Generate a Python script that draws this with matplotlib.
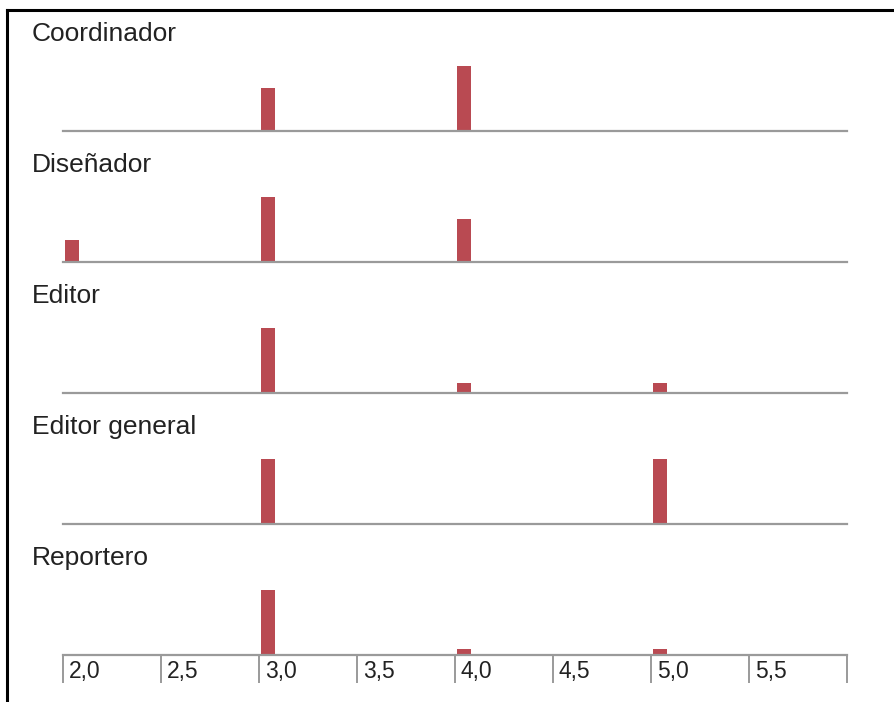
import matplotlib
matplotlib.use("Agg")
import matplotlib.pyplot as plt
from matplotlib.lines import Line2D

# panel names, top to bottom
roles = ["Coordinador", "Diseñador", "Editor", "Editor general", "Reportero"]

# bin starts (left edge of each bar) and relative heights per panel
bins = [2.0, 3.0, 4.0, 5.0]
heights = {
    "Coordinador":    [0.0, 2.0, 3.0, 0.0],
    "Diseñador":      [1.0, 3.0, 2.0, 0.0],
    "Editor":         [0.0, 1.0, 0.155, 0.155],
    "Editor general": [0.0, 1.0, 0.0, 1.0],
    "Reportero":      [0.0, 1.0, 0.09, 0.09],
}

tick_vals = [2.0, 2.5, 3.0, 3.5, 4.0, 4.5, 5.0, 5.5, 6.0]
tick_labels = ["2,0", "2,5", "3,0", "3,5", "4,0", "4,5", "5,0", "5,5", ""]

plt.rcParams["font.family"] = ["Liberation Sans", "DejaVu Sans"]

W, H = 894, 702
fig = plt.figure(figsize=(W / 100, H / 100), dpi=100)

bar_color = "#b94a52"
axis_color = "#9a9a9a"
text_color = "#222222"

x0, x1 = 63, 847
baselines = [131, 262, 393, 524, 655]
bar_px = 65

for i, role in enumerate(roles):
    base = baselines[i]
    ax = fig.add_axes([x0 / W, 1 - base / H, (x1 - x0) / W, bar_px / H])
    vals = heights[role]
    # bars sit a hair to the right of the bin start
    ax.bar([b + 0.01 for b in bins], vals, width=0.071, align="edge",
           color=bar_color, zorder=2)
    ax.set_xlim(2.0, 6.0)
    ax.set_ylim(0, max(vals))
    for s in ["top", "right", "left"]:
        ax.spines[s].set_visible(False)
    ax.spines["bottom"].set_color(axis_color)
    ax.spines["bottom"].set_linewidth(1.6)
    ax.spines["bottom"].set_zorder(3)
    ax.set_yticks([])
    ax.patch.set_alpha(0)

    fig.text(32 / W, 1 - (base - 97) / H, role, fontsize=19,
             color=text_color, va="center", ha="left")

    if i == len(roles) - 1:
        ax.set_xticks(tick_vals)
        ax.set_xticklabels([])
        ax.tick_params(axis="x", direction="out", length=20.5, width=1.4,
                       color=axis_color)
        for v, lab in zip(tick_vals, tick_labels):
            ax.text(v + 0.03, -0.26, lab, transform=ax.get_xaxis_transform(),
                    fontsize=16.5, color=text_color, ha="left", va="center")
    else:
        ax.set_xticks([])

# partial frame seen at left and top edge
fig.add_artist(Line2D([7 / W, 7 / W], [0, 1 - 10 / H], color="black", lw=2.2,
                      transform=fig.transFigure))
fig.add_artist(Line2D([7 / W, 1], [1 - 10 / H, 1 - 10 / H], color="black", lw=2.2,
                      transform=fig.transFigure))

fig.savefig("out.png", dpi=100, facecolor="white")
